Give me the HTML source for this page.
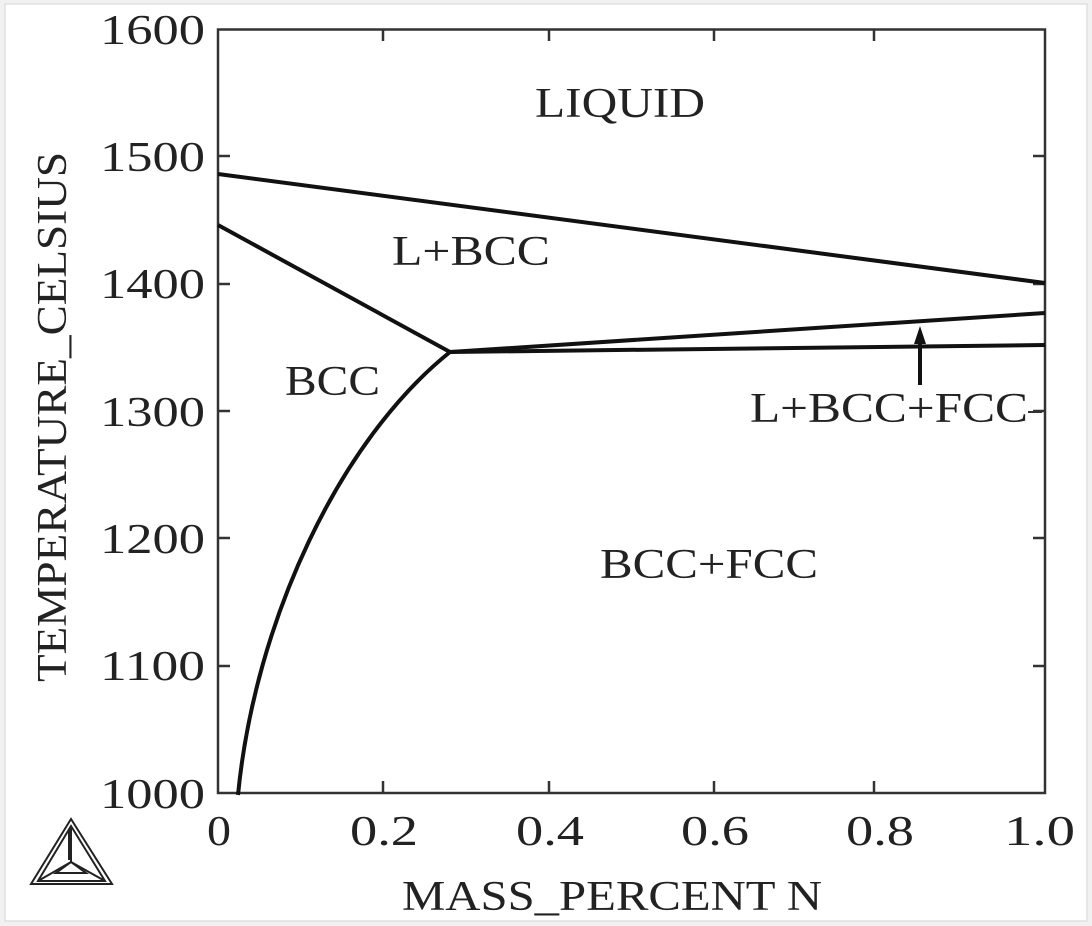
<!DOCTYPE html>
<html><head><style>
html,body{margin:0;padding:0;background:#fff;}
</style></head><body>
<svg width="1092" height="926" xmlns="http://www.w3.org/2000/svg" style="display:block">
<rect x="0" y="0" width="1092" height="926" fill="#f1f1f1"/>
<rect x="5" y="4" width="1082" height="917" fill="#fff" stroke="#e0e0e0" stroke-width="1.5"/>
<g font-family="Liberation Serif, serif" fill="#222">
<g stroke="#333" stroke-width="2.5" fill="none">
<rect x="218" y="29.5" width="827" height="763.5"/>
</g>
<g stroke="#333" stroke-width="2.5">
<line x1="383" y1="793" x2="383" y2="781"/><line x1="383" y1="29" x2="383" y2="41"/>
<line x1="549" y1="793" x2="549" y2="781"/><line x1="549" y1="29" x2="549" y2="41"/>
<line x1="714" y1="793" x2="714" y2="781"/><line x1="714" y1="29" x2="714" y2="41"/>
<line x1="874" y1="793" x2="874" y2="781"/><line x1="874" y1="29" x2="874" y2="41"/>
<line x1="218" y1="156" x2="230" y2="156"/><line x1="1045" y1="156" x2="1033" y2="156"/>
<line x1="218" y1="284" x2="230" y2="284"/><line x1="1045" y1="284" x2="1033" y2="284"/>
<line x1="218" y1="411" x2="230" y2="411"/><line x1="1045" y1="411" x2="1033" y2="411"/>
<line x1="218" y1="538" x2="230" y2="538"/><line x1="1045" y1="538" x2="1033" y2="538"/>
<line x1="218" y1="666" x2="230" y2="666"/><line x1="1045" y1="666" x2="1033" y2="666"/>
</g>
<g stroke="#111" stroke-width="4" fill="none" stroke-linejoin="round">
<line x1="218" y1="174" x2="1045" y2="283"/>
<line x1="218" y1="225" x2="450" y2="352"/>
<line x1="450" y1="352" x2="1045" y2="345"/>
<line x1="450" y1="352" x2="1045" y2="313"/>
<path d="M450 352 C 340 440, 255 620, 238 795"/>
<line x1="920" y1="385" x2="920" y2="340"/>
</g>
<polygon points="920,326 914,344 926,344" fill="#111"/>
<g font-size="42" lengthAdjust="spacingAndGlyphs">
<text x="100" y="44" textLength="105" lengthAdjust="spacingAndGlyphs">1600</text>
<text x="100" y="171" textLength="105" lengthAdjust="spacingAndGlyphs">1500</text>
<text x="100" y="298" textLength="105" lengthAdjust="spacingAndGlyphs">1400</text>
<text x="100" y="426" textLength="105" lengthAdjust="spacingAndGlyphs">1300</text>
<text x="100" y="553" textLength="105" lengthAdjust="spacingAndGlyphs">1200</text>
<text x="100" y="680" textLength="105" lengthAdjust="spacingAndGlyphs">1100</text>
<text x="100" y="808" textLength="105" lengthAdjust="spacingAndGlyphs">1000</text>
<text x="207" y="845" textLength="24" lengthAdjust="spacingAndGlyphs">0</text>
<text x="350" y="845" textLength="68" lengthAdjust="spacingAndGlyphs">0.2</text>
<text x="516" y="845" textLength="68" lengthAdjust="spacingAndGlyphs">0.4</text>
<text x="681" y="845" textLength="68" lengthAdjust="spacingAndGlyphs">0.6</text>
<text x="846" y="845" textLength="68" lengthAdjust="spacingAndGlyphs">0.8</text>
<text x="1004" y="845" textLength="71" lengthAdjust="spacingAndGlyphs">1.0</text>
<text x="402" y="910" textLength="420" lengthAdjust="spacingAndGlyphs">MASS_PERCENT N</text>
<text x="535" y="117" textLength="170" lengthAdjust="spacingAndGlyphs">LIQUID</text>
<text x="392" y="265" textLength="158" lengthAdjust="spacingAndGlyphs">L+BCC</text>
<text x="285" y="395" textLength="95" lengthAdjust="spacingAndGlyphs">BCC</text>
<text x="750" y="422" textLength="278" lengthAdjust="spacingAndGlyphs">L+BCC+FCC</text>
<text x="600" y="578" textLength="218" lengthAdjust="spacingAndGlyphs">BCC+FCC</text>
<text transform="translate(66,682) rotate(-90)" textLength="530" lengthAdjust="spacingAndGlyphs">TEMPERATURE_CELSIUS</text>
</g>
<line x1="1028" y1="412" x2="1042" y2="412" stroke="#333" stroke-width="2"/>
<g stroke="#222" stroke-width="2" fill="none">
<polygon points="71,819 31,884 112,884"/>
<polygon points="71,826 38,881 105,881"/>
<line x1="71" y1="826" x2="71" y2="862"/><line x1="69" y1="830" x2="69" y2="860"/>
<line x1="71" y1="862" x2="38" y2="881"/><line x1="71" y1="862" x2="105" y2="881"/>
<polygon points="71,862 56,873 86,873"/>
</g>
</g>
</svg>
</body></html>
